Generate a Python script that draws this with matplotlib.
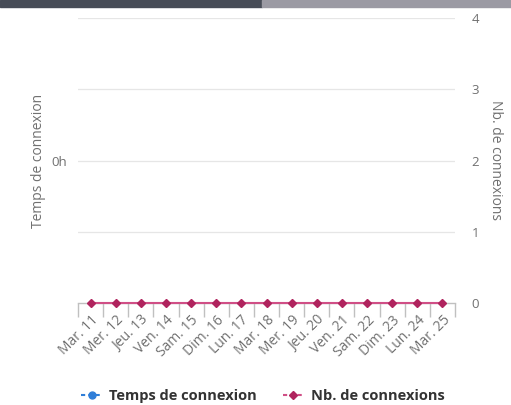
import matplotlib
matplotlib.use("Agg")
import matplotlib.pyplot as plt
from matplotlib.lines import Line2D
from matplotlib.patches import Rectangle
import numpy as np

plt.rcParams["font.family"] = ["Open Sans", "DejaVu Sans"]

# data
DAYS = ["Mar. 11", "Mer. 12", "Jeu. 13", "Ven. 14", "Sam. 15", "Dim. 16", "Lun. 17",
        "Mar. 18", "Mer. 19", "Jeu. 20", "Ven. 21", "Sam. 22", "Dim. 23", "Lun. 24", "Mar. 25"]
NB_CONNEXIONS = [0, 0, 0, 0, 0, 0, 0, 0, 0, 0, 0, 0, 0, 0, 0]
TEMPS_CONNEXION = [None] * 15   # no time recorded
RIGHT_TICKS = [0, 1, 2, 3, 4]
LEFT_TICKS = [0]
LEFT_TICK_LABELS = ["0h"]

BLUE = "#2f7ed8"
PINK = "#b0245e"
PINK_LINE = "#d04f86"
GRAY_TXT = "#707070"

fig = plt.figure(figsize=(5.11, 4.05), dpi=100)
W, H = 511, 405

# header bars at top
fig.patches.append(Rectangle((0, 1 - 7 / H), 262 / W, 7 / H, transform=fig.transFigure,
                             color="#474c57", zorder=0))
fig.patches.append(Rectangle((262 / W, 1 - 7 / H), 1 - 262 / W, 7 / H, transform=fig.transFigure,
                             color="#9b9aa3", zorder=0))

left, right, top, bottom = 78 / W, 455 / W, 1 - 18 / H, 1 - 303 / H
ax = fig.add_axes([left, bottom, right - left, top - bottom])
ax2 = ax.twinx()

x = np.arange(len(DAYS))
ax.set_xlim(-0.5, len(DAYS) - 0.5)

# left axis: temps de connexion
ax.set_ylim(-2, 2)
ax.set_yticks(LEFT_TICKS)
ax.set_yticklabels(LEFT_TICK_LABELS)
temps = np.array([np.nan if v is None else v for v in TEMPS_CONNEXION], dtype=float)
ax.plot(x, temps, color=BLUE, marker="o", ms=5, lw=1.5)

# right axis: nb de connexions
ax2.set_ylim(0, 4)
ax2.set_yticks(RIGHT_TICKS)
for t in RIGHT_TICKS[1:]:
    ax2.axhline(t, color="#e6e6e6", lw=0.9, zorder=0)
ax2.plot(x, NB_CONNEXIONS, color=PINK_LINE, lw=1.5, marker="D", ms=4.5,
         markerfacecolor=PINK, markeredgecolor=PINK, clip_on=False, zorder=5)

for a in (ax, ax2):
    for s in a.spines.values():
        s.set_visible(False)
ax.spines["bottom"].set_visible(True)
ax.spines["bottom"].set_color("#c0c0c0")
ax.spines["bottom"].set_linewidth(1)

ax.tick_params(axis="y", length=0, labelsize=9.5, labelcolor=GRAY_TXT, pad=8)
ax2.tick_params(axis="y", length=0, labelsize=9.5, labelcolor=GRAY_TXT, pad=12)

# category ticks between days, labels under each day
ax.set_xticks(np.arange(len(DAYS) + 1) - 0.5, minor=False)
ax.set_xticklabels([])
ax.tick_params(axis="x", which="major", length=10, color="#c0c0c0", width=1)
ax.set_xticks(x, minor=True)
ax.set_xticklabels(DAYS, minor=True, rotation=45, ha="right", rotation_mode="anchor",
                   fontsize=10, color=GRAY_TXT)
ax.tick_params(axis="x", which="minor", length=0, pad=7)

ax.set_ylabel("Temps de connexion", color=GRAY_TXT, fontsize=10, labelpad=4)
ax2.set_ylabel("Nb. de connexions", color=GRAY_TXT, fontsize=10, rotation=270, labelpad=17)

handles = [
    Line2D([0], [0], color=BLUE, ls="--", dashes=(2, 1.5), lw=1.5, marker="o", ms=5),
    Line2D([0], [0], color=PINK_LINE, ls="--", dashes=(2, 1.5), lw=1.5, marker="D", ms=4,
           markerfacecolor=PINK, markeredgecolor=PINK),
]
leg = fig.legend(handles, ["Temps de connexion", "Nb. de connexions"], loc="center",
                 bbox_to_anchor=(263 / W, 1 - 396 / H), ncol=2, frameon=False,
                 handlelength=1.4, handletextpad=0.5, columnspacing=1.8,
                 prop={"size": 10.5, "weight": "bold"})
for t in leg.get_texts():
    t.set_color("#333333")

fig.savefig("out.png", dpi=100)
